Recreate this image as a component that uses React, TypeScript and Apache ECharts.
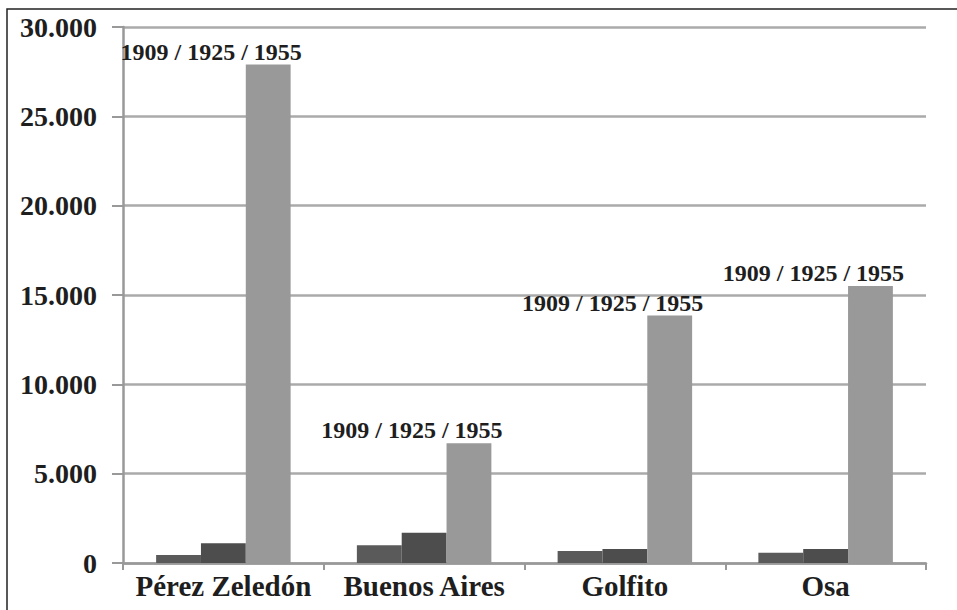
import React, { useEffect, useRef } from "react";
import * as echarts from "echarts";

const categories = ["Pérez Zeledón", "Buenos Aires", "Golfito", "Osa"];
const values1909 = [450, 1000, 670, 570];
const values1925 = [1100, 1700, 780, 780];
const values1955 = [27900, 6700, 13850, 15500];
const yearsLabel = "1909 / 1925 / 1955";
const yTicks = [0, 5000, 10000, 15000, 20000, 25000, 30000];

const fmt = (v: number) =>
  String(v).replace(/\B(?=(\d{3})+(?!\d))/g, ".");

const FONT = "Liberation Serif";

export default function App() {
  const ref = useRef<HTMLDivElement>(null);
  useEffect(() => {
    if (!ref.current) return;
    const chart = echarts.init(ref.current, undefined, { renderer: "svg" });
    chart.setOption({
      animation: false,
      backgroundColor: "#ffffff",
      grid: { left: 123, right: 31, top: 27, bottom: 47, containLabel: false },
      graphic: [
        {
          type: "rect",
          shape: { x: 7, y: 9, width: 1200, height: 1200 },
          style: { fill: "none", stroke: "#222", lineWidth: 1.5 },
          silent: true,
        },
      ],
      xAxis: {
        type: "category",
        data: categories,
        axisLine: { lineStyle: { color: "#999", width: 2.5 } },
        axisTick: { show: true, length: 7, lineStyle: { color: "#999", width: 2 } },
        axisLabel: {
          interval: 0,
          margin: 8,
          fontFamily: FONT,
          fontWeight: "bold",
          fontSize: 29,
          color: "#1e1e1e",
        },
      },
      yAxis: {
        type: "value",
        min: yTicks[0],
        max: yTicks[yTicks.length - 1],
        interval: yTicks[1] - yTicks[0],
        axisLine: { show: true, lineStyle: { color: "#999", width: 2.5 } },
        axisTick: { show: true, length: 11, lineStyle: { color: "#999", width: 2 } },
        splitLine: { lineStyle: { color: "#aaa", width: 2.5 } },
        axisLabel: {
          margin: 26,
          fontFamily: FONT,
          fontWeight: "bold",
          fontSize: 28,
          color: "#1e1e1e",
          formatter: (v: number) => fmt(v),
        },
      },
      series: [
        {
          type: "bar",
          name: "1909",
          data: values1909,
          barGap: "0%",
          barCategoryGap: "33%",
          itemStyle: { color: "#5a5a5a" },
        },
        {
          type: "bar",
          name: "1925",
          data: values1925,
          barGap: "0%",
          barCategoryGap: "33%",
          itemStyle: { color: "#4d4d4d" },
        },
        {
          type: "bar",
          name: "1955",
          data: values1955,
          barGap: "0%",
          barCategoryGap: "33%",
          itemStyle: { color: "#999999" },
          label: {
            show: true,
            position: "top",
            distance: 1,
            offset: [-57, 0],
            formatter: () => yearsLabel,
            fontFamily: FONT,
            fontWeight: "bold",
            fontSize: 24,
            color: "#1e1e1e",
          },
        },
      ],
    });
    return () => chart.dispose();
  }, []);
  return (
    <div
      ref={ref}
      style={{ position: "absolute", left: 0, top: 0, width: 957, height: 610 }}
    />
  );
}
